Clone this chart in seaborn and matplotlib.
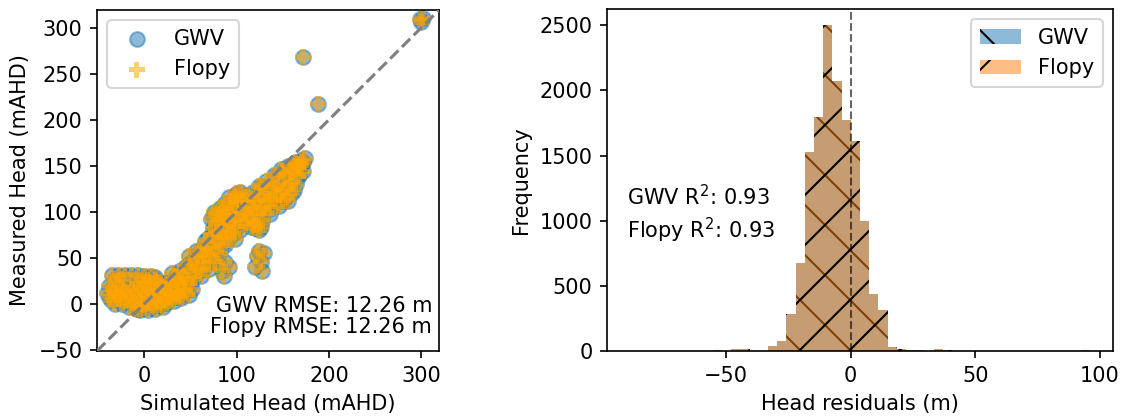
import numpy as np
import matplotlib
matplotlib.use("Agg")
import matplotlib.pyplot as plt
import seaborn as sns

# ---------------- data ----------------
# (simulated, measured) heads in mAHD; GWV and Flopy give the same results
head_pairs = [
    # lower-left blob
    (-35, 31), (-28, 31), (-21, 32), (-14, 32), (-7, 31), (0, 30), (7, 30), (12, 29),
    (-32, 27), (-25, 27), (-4, 26), (4, 26), (12, 26), (20, 20), (28, 21), (36, 24),
    (-38, 20), (-30, 22), (-24, 18), (-16, 20), (-8, 22), (0, 22), (8, 22), (16, 24), (24, 24), (32, 26),
    (-36, 16), (-29, 17), (-21, 15), (-13, 16), (-5, 17), (3, 18), (11, 18), (19, 19), (26, 13), (34, 15), (42, 17),
    (-40, 12), (-33, 12), (-26, 10), (-18, 12), (-10, 12), (-2, 14), (6, 14), (14, 14), (22, 16), (30, 18), (38, 20),
    (-38, 8), (-31, 8), (-23, 7), (-15, 8), (-7, 9), (1, 10), (9, 10), (17, 11), (25, 6), (33, 8), (41, 10), (48, 10),
    (-36, 4), (-28, 5), (-20, 4), (-12, 3), (-4, 5), (4, 6), (12, 6), (20, 8), (28, 10), (36, 12), (44, 14),
    (-32, 0), (-24, 0), (-12, -1), (-4, 0), (4, 1), (12, 2), (20, 3), (28, 5), (36, 8),
    (-16, -3), (-8, -5), (0, -4), (8, -3), (16, -1), (24, 1), (32, 3), (40, 6),
    (-4, -6), (4, -7), (12, -5), (20, -3),
    # rising section
    (30, 34), (38, 36), (44, 40), (46, 28), (50, 22), (52, 46), (54, 34), (58, 52), (58, 40),
    (62, 30), (48, 52), (44, 22), (40, 28), (34, 30), (42, 32), (48, 36), (50, 44), (54, 28),
    (56, 46), (60, 36), (60, 56), (56, 58), (64, 38), (52, 16),
    # middle band
    (62, 60), (64, 45), (66, 68), (68, 52), (70, 38), (72, 75), (74, 60), (76, 46), (78, 88),
    (80, 68), (82, 55), (84, 100), (86, 80), (88, 64), (90, 92), (92, 72), (94, 108), (96, 84),
    (98, 70), (100, 114), (102, 96), (104, 80), (106, 118), (108, 102), (110, 88), (112, 110),
    (114, 94), (116, 84),
    (64, 52), (66, 60), (68, 70), (70, 62), (70, 46), (72, 54), (74, 82), (76, 68), (78, 56),
    (78, 76), (80, 92), (82, 78), (84, 64), (84, 88), (86, 72), (86, 96), (88, 84), (90, 100),
    (90, 76), (92, 86), (94, 96), (96, 104), (96, 76), (98, 92), (100, 104), (100, 84),
    (102, 110), (104, 98), (106, 90), (108, 112), (110, 98), (112, 118), (112, 92), (114, 106),
    (118, 88), (122, 86), (124, 80), (120, 82), (126, 84),
    # lobe above the 1:1 line
    (72, 92), (76, 100), (82, 104), (88, 110), (92, 116), (98, 118),
    (74, 96), (80, 98), (86, 104), (94, 112), (100, 120), (104, 122),
    # small low clusters
    (80, 44), (84, 36), (88, 46), (86, 30), (92, 40),
    (120, 40), (122, 52), (126, 46), (128, 36), (130, 55), (124, 58),
    # upper band
    (116, 104), (118, 122), (120, 96), (122, 112), (124, 128), (126, 104), (128, 90), (130, 118),
    (132, 134), (134, 108), (136, 98), (138, 124), (140, 140), (142, 114), (144, 130), (146, 106),
    (148, 146), (150, 122), (152, 136), (154, 116), (156, 150), (158, 130), (160, 142), (162, 124),
    (164, 154), (166, 138), (168, 148), (170, 156), (172, 144), (174, 158),
    (118, 112), (120, 104), (122, 120), (124, 98), (126, 116), (128, 128), (128, 106), (130, 98),
    (132, 112), (134, 126), (136, 114), (138, 104), (140, 128), (142, 120), (144, 140), (146, 118),
    (148, 132), (150, 112), (150, 144), (152, 124), (154, 140), (156, 126), (158, 146), (160, 132),
    (162, 150), (164, 130), (166, 152), (168, 140), (170, 150), (172, 154), (160, 120), (156, 112),
    # outliers
    (172, 268), (188, 217), (298, 309), (302, 310), (300, 306),
]
sim_head = [p[0] for p in head_pairs]
meas_head = [p[1] for p in head_pairs]
gwv_rmse = 12.26
flopy_rmse = 12.26
gwv_r2 = 0.93
flopy_r2 = 0.93

# Histogram of head residuals (m): 50 bins between these limits
resid_min, resid_max, n_bins = -88.5, 96.0, 50
resid_counts = [
    0, 0, 0, 0, 0, 0, 0, 0, 0, 4,
    0, 14, 16, 3, 2, 38, 77, 282, 674, 1526,
    1795, 2500, 2069, 1774, 1615, 995, 436, 313, 31, 13,
    8, 4, 3, 18, 8, 0, 0, 0, 0, 0,
    0, 0, 0, 0, 0, 0, 0, 0, 0, 5,
]
model_names = ["GWV", "Flopy"]

# ---------------- figure ----------------
W, H, DPI = 1126, 418, 150
plt.rcParams["font.family"] = ["DejaVu Sans"]
plt.rcParams["font.size"] = 10
fig = plt.figure(figsize=(W / DPI, H / DPI), dpi=DPI)

ax1 = fig.add_axes([97 / W, 1 - 351 / H, 342 / W, 341 / H])
ax2 = fig.add_axes([607 / W, 1 - 351 / H, 506 / W, 342 / H])

# ---- left: scatter ----
lims = [-51, 319]
ax1.plot(lims, lims, ls="--", color="grey", lw=1.5, zorder=3)
sns.scatterplot(x=sim_head, y=meas_head, ax=ax1, s=50, color="C0", alpha=0.5,
                edgecolor="C0", linewidth=1.0, label=model_names[0], zorder=1)
sns.scatterplot(x=sim_head, y=meas_head, ax=ax1, s=58, marker="P", color="orange",
                alpha=0.55, edgecolor="none", linewidth=0, label=model_names[1], zorder=2)
ax1.set_xlim(lims)
ax1.set_ylim(lims)
ax1.set_xticks([0, 100, 200, 300])
ax1.set_yticks([-50, 0, 50, 100, 150, 200, 250, 300])
ax1.set_xlabel("Simulated Head (mAHD)")
ax1.set_ylabel("Measured Head (mAHD)")
ax1.legend(loc="upper left")
ax1.text(0.98, 0.04,
         f"{model_names[0]} RMSE: {gwv_rmse:.2f} m\n{model_names[1]} RMSE: {flopy_rmse:.2f} m",
         transform=ax1.transAxes, ha="right", va="bottom", linespacing=1.1)

# ---- right: histogram ----
edges = np.linspace(resid_min, resid_max, n_bins + 1)
centers = list(0.5 * (edges[:-1] + edges[1:]))
sns.histplot(x=centers, weights=resid_counts, bins=n_bins,
             binrange=(resid_min, resid_max), ax=ax2, color="C0",
             alpha=0.5, hatch="\\", edgecolor="black", linewidth=0,
             label=model_names[0])
sns.histplot(x=centers, weights=resid_counts, bins=n_bins,
             binrange=(resid_min, resid_max), ax=ax2, color="C1",
             alpha=0.5, hatch="/", edgecolor="black", linewidth=0,
             label=model_names[1])
ax2.axvline(0, color="k", ls="--", lw=1, alpha=0.6)
ax2.set_xticks([-50, 0, 50, 100])
ax2.set_xlabel("Head residuals (m)")
ax2.set_ylabel("Frequency")
ax2.legend(loc="upper right")
ax2.text(0.04, 0.40,
         f"{model_names[0]} R$^2$: {gwv_r2:.2f}\n{model_names[1]} R$^2$: {flopy_r2:.2f}",
         transform=ax2.transAxes, ha="left", va="center", linespacing=1.3)

fig.savefig("out.png", dpi=DPI)
